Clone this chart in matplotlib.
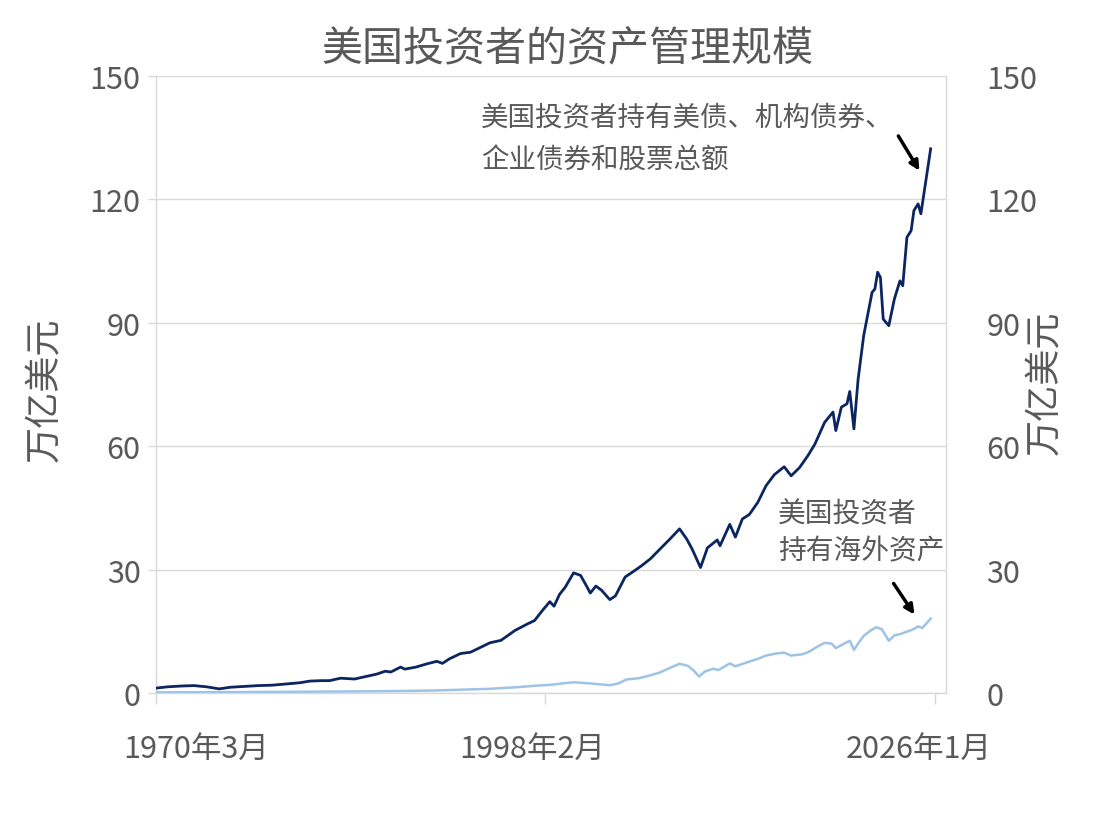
import matplotlib
matplotlib.use("Agg")
import matplotlib.pyplot as plt

# ================= DATA =================
# x values are fractional years (year + (month-1)/12), values in 万亿美元
total_years = [1970.2, 1971.0, 1972.0, 1972.9, 1973.8, 1974.7, 1975.5, 1976.5, 1977.5, 1978.5,
               1979.5, 1980.5, 1981.2, 1982.0, 1982.6, 1983.4, 1984.4, 1985.2, 1986.0, 1986.6,
               1987.0, 1987.7, 1988.0, 1988.8, 1989.6, 1990.3, 1990.7, 1991.2, 1992.0, 1992.7,
               1993.5, 1994.1, 1994.9, 1995.9, 1996.8, 1997.3, 1997.9, 1998.4, 1998.7, 1999.1,
               1999.5, 2000.1, 2000.6, 2001.0, 2001.3, 2001.7, 2002.1, 2002.7, 2003.1, 2003.8,
               2004.5, 2005.0, 2005.6, 2006.3, 2007.0, 2007.7, 2008.2, 2008.6, 2009.2, 2009.7,
               2010.4, 2010.6, 2011.3, 2011.7, 2012.2, 2012.7, 2013.3, 2013.9, 2014.5, 2015.2,
               2015.7, 2016.3, 2016.9, 2017.4, 2018.1, 2018.7, 2018.9, 2019.3, 2019.7, 2019.9,
               2020.2, 2020.5, 2020.9, 2021.5, 2021.7, 2021.9, 2022.1, 2022.3, 2022.7, 2023.1,
               2023.5, 2023.7, 2024.0, 2024.3, 2024.5, 2024.8, 2025.0, 2025.7]
total_vals = [1.2, 1.5, 1.7, 1.8, 1.5, 1.0, 1.4, 1.6, 1.8, 1.9,
              2.2, 2.5, 2.9, 3.0, 3.0, 3.6, 3.4, 4.0, 4.6, 5.3,
              5.1, 6.3, 5.8, 6.3, 7.1, 7.7, 7.2, 8.3, 9.6, 9.9,
              11.2, 12.2, 12.8, 15.2, 16.8, 17.6, 20.2, 22.2, 21.1, 24.0,
              25.7, 29.2, 28.6, 26.2, 24.3, 26.0, 25.0, 22.7, 23.6, 28.2,
              29.8, 31.0, 32.6, 35.0, 37.4, 39.9, 37.5, 35.0, 30.5, 35.3,
              37.2, 35.8, 41.0, 37.9, 42.3, 43.4, 46.3, 50.4, 53.1, 55.0,
              52.8, 54.8, 57.7, 60.5, 65.8, 68.3, 63.8, 69.5, 70.3, 73.3,
              64.2, 76.3, 86.9, 97.4, 98.2, 102.3, 101.0, 90.9, 89.3, 95.8,
              100.2, 99.0, 110.8, 112.4, 117.3, 118.9, 116.5, 132.3]

foreign_years = [1970.2, 1975.0, 1980.0, 1985.0, 1988.0, 1990.0, 1992.0, 1994.0, 1996.0, 1997.5,
                 1998.5, 1999.5, 2000.1, 2001.0, 2001.7, 2002.7, 2003.3, 2003.9, 2004.8, 2005.5,
                 2006.3, 2007.0, 2007.7, 2008.3, 2008.7, 2009.1, 2009.5, 2010.1, 2010.5, 2011.3,
                 2011.7, 2012.5, 2013.3, 2013.9, 2014.6, 2015.2, 2015.7, 2016.5, 2016.9, 2017.6,
                 2018.1, 2018.6, 2018.9, 2019.5, 2019.9, 2020.2, 2020.6, 2020.9, 2021.4, 2021.8,
                 2022.2, 2022.7, 2023.1, 2023.5, 2023.9, 2024.4, 2024.8, 2025.1, 2025.7]
foreign_vals = [0.15, 0.2, 0.3, 0.4, 0.5, 0.6, 0.8, 1.0, 1.4, 1.8,
                2.0, 2.4, 2.6, 2.4, 2.2, 1.9, 2.3, 3.3, 3.6, 4.2,
                5.0, 6.1, 7.1, 6.6, 5.5, 4.0, 5.2, 5.9, 5.6, 7.2,
                6.5, 7.4, 8.3, 9.1, 9.6, 9.8, 9.1, 9.4, 9.9, 11.3,
                12.2, 12.0, 10.9, 12.0, 12.7, 10.5, 12.5, 13.9, 15.2, 16.0,
                15.5, 12.7, 14.0, 14.3, 14.8, 15.4, 16.2, 15.8, 18.1]

x_ticks = [1970 + 2 / 12, 1998 + 1 / 12, 2026.0]
x_tick_labels = ["1970年3月", "1998年2月", "2026年1月"]
y_ticks = [0, 30, 60, 90, 120, 150]

title = "美国投资者的资产管理规模"
y_label = "万亿美元"
note_total = "美国投资者持有美债、机构债券、\n企业债券和股票总额"
note_foreign = "美国投资者\n持有海外资产"

# ================= STYLE =================
CJK = ["Noto Sans CJK SC", "DejaVu Sans"]
GRAY = "#595959"
GRID = "#d9d9d9"
NAVY = "#0b2560"
LIGHT = "#9dc3e6"

plt.rcParams["font.family"] = CJK

fig = plt.figure(figsize=(11.16, 8.2), dpi=100)
ax = fig.add_axes([156 / 1116, 1 - 694 / 820, (946 - 156) / 1116, (694 - 77) / 820])

ax.plot(foreign_years, foreign_vals, color=LIGHT, lw=1.8, zorder=3)
ax.plot(total_years, total_vals, color=NAVY, lw=2.0, zorder=4)

ax.set_xlim(1970 + 2 / 12, 2026.8)
ax.set_ylim(0, 150)
ax.set_yticks(y_ticks)
ax.yaxis.grid(True, color=GRID, lw=1)
ax.set_axisbelow(True)

for side in ["left", "right", "bottom"]:
    ax.spines[side].set_color(GRID)
    ax.spines[side].set_linewidth(1)
ax.spines["top"].set_visible(False)

ax.set_xticks(x_ticks)
ax.set_xticklabels([])
ax.tick_params(axis="x", length=8, color=GRID, width=1)
ax.tick_params(axis="y", length=6, color=GRID, width=1, labelsize=22,
               labelcolor=GRAY, pad=5)

ax2 = ax.twinx()
ax2.set_ylim(0, 150)
ax2.set_yticks(y_ticks)
ax2.tick_params(axis="y", length=0, labelsize=22, labelcolor=GRAY, pad=29)
for side in ["left", "right", "bottom", "top"]:
    ax2.spines[side].set_visible(False)

# x tick labels (slightly shifted as in source)
label_x = [1973.05, 1997.1, 2024.85]
for xv, txt in zip(label_x, x_tick_labels):
    ax.text(xv, -0.09, txt, transform=ax.get_xaxis_transform(), ha="center", va="center",
            fontsize=22, color=GRAY)

fig.text(567 / 1116, 1 - 50 / 820, title, ha="center", va="center", fontsize=29.5, color=GRAY)
fig.text(45 / 1116, 1 - 390 / 820, y_label, ha="center", va="center", rotation=90,
         fontsize=26, color=GRAY)
fig.text(1045 / 1116, 1 - 383 / 820, y_label, ha="center", va="center", rotation=90,
         fontsize=26, color=GRAY)

ax.text(1993.45, 143.3, note_total, ha="left", va="top", fontsize=19.8, color=GRAY,
        linespacing=1.75)
ax.text(2014.75, 47.3, note_foreign, ha="left", va="top", fontsize=20, color=GRAY,
        linespacing=1.3)

arrow = dict(arrowstyle="-|>", color="black", lw=2.5, mutation_scale=14)
ax.annotate("", xy=(2025.0, 126.4), xytext=(2023.28, 136.0), arrowprops=arrow)
ax.annotate("", xy=(2024.65, 18.5), xytext=(2022.93, 27.2), arrowprops=arrow)

fig.savefig("out.png", dpi=100, facecolor="white")
